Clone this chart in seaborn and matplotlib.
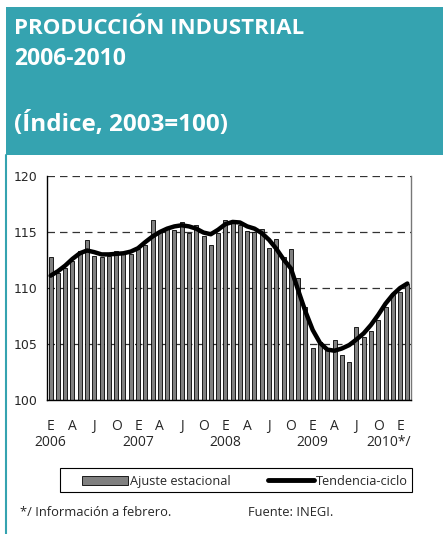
import matplotlib
matplotlib.use("Agg")
import pandas as pd
import matplotlib.pyplot as plt
import seaborn as sns
from matplotlib.patches import Rectangle, Patch
from matplotlib.lines import Line2D
from matplotlib.transforms import blended_transform_factory

# ================= DATA =================
# monthly index, Jan 2006 - Feb 2010
ajuste = [
    112.8, 111.3, 111.8, 112.4, 113.3, 114.3, 112.9, 112.75, 112.9, 113.3, 113.0, 113.0,
    113.5, 113.8, 116.05, 115.0, 115.3, 115.2, 115.9, 114.95, 115.6, 114.6, 113.8, 114.95,
    116.1, 115.8, 115.6, 115.1, 115.0, 115.3, 113.6, 114.35, 112.8, 113.45, 110.9, 108.3,
    104.6, 105.2, 104.5, 105.4, 104.0, 103.4, 106.55, 105.65, 106.15, 107.1, 108.3, 109.4,
    109.65, 110.35,
]
tendencia = [
    111.1, 111.5, 112.0, 112.6, 113.1, 113.35, 113.2, 113.0, 113.0, 113.05, 113.1, 113.25,
    113.55, 114.1, 114.6, 115.0, 115.3, 115.5, 115.6, 115.5, 115.3, 114.95, 114.8, 115.2,
    115.7, 115.9, 115.85, 115.5, 115.3, 114.9, 114.3, 113.5, 112.55, 111.75, 109.8, 107.9,
    106.25, 105.1, 104.5, 104.4, 104.6, 104.9, 105.4, 105.95, 106.7, 107.6, 108.6, 109.4,
    110.0, 110.4,
]
month_ticks = ["E", "A", "J", "O"] * 4 + ["E"]
year_labels = ["2006", "2007", "2008", "2009"]
last_year_label = "2010*/"
y_ticks = [100, 105, 110, 115, 120]

df = pd.DataFrame({"mes": range(len(ajuste)), "ajuste": ajuste, "tendencia": tendencia})

TEAL = "#35a3b0"
FONT = ["Open Sans", "DejaVu Sans"]

# ================= FIGURE =================
sns.set_style("white")
plt.rcParams["font.family"] = FONT

fig = plt.figure(figsize=(4.43, 5.34), dpi=100)

# header box + left border
fig.patches.append(Rectangle((6 / 443, 1 - 155 / 534), 1, 148 / 534,
                             transform=fig.transFigure, facecolor=TEAL,
                             edgecolor="none", zorder=0))
fig.add_artist(Line2D([6 / 443, 6 / 443], [0, 1 - 155 / 534],
                      transform=fig.transFigure, color=TEAL, lw=1.5))

fig.text(14 / 443, 1 - 34 / 534, "PRODUCCIÓN INDUSTRIAL", color="white",
         fontsize=16, fontweight="bold", va="baseline")
fig.text(14 / 443, 1 - 65 / 534, "2006-2010", color="white",
         fontsize=16.5, fontweight="bold", va="baseline")
fig.text(14 / 443, 1 - 131 / 534, "(Índice, 2003=100)", color="white",
         fontsize=17.5, fontweight="bold", va="baseline")

# ================= CHART =================
ax = fig.add_axes([47 / 443, 1 - 400 / 534, 364 / 443, 224 / 534])

sns.barplot(data=df, x="mes", y="ajuste", color="#808080", saturation=1,
            width=0.55, edgecolor="black", linewidth=0.6, ax=ax)
sns.lineplot(data=df, x="mes", y="tendencia", color="black", lw=3.2, ax=ax)

ax.set_xlim(-0.5, len(ajuste) - 0.5)
ax.set_ylim(100, 120)
ax.set_yticks(y_ticks)
ax.set_yticklabels([str(v) for v in y_ticks], family="DejaVu Sans", fontsize=9)
ax.set_xticks(range(0, len(ajuste), 3))
ax.set_xticklabels(month_ticks, fontsize=10)
ax.set_xticks([i - 0.5 for i in range(len(ajuste) + 1)], minor=True)
ax.tick_params(axis="x", which="major", length=0, pad=14)
ax.tick_params(axis="x", which="minor", length=4, width=0.8, color="black", direction="out")
ax.tick_params(axis="y", length=4, width=0.8, color="black", direction="out", pad=3)
ax.set_xlabel("")
ax.set_ylabel("")

ax.yaxis.grid(True, linestyle=(0, (6, 4)), color="#333333", lw=0.9)
ax.xaxis.grid(False)
ax.set_axisbelow(True)

for side in ["left", "bottom"]:
    ax.spines[side].set_color("black")
    ax.spines[side].set_linewidth(1)
ax.spines["top"].set_visible(False)
ax.spines["right"].set_color("#777777")
ax.spines["right"].set_linewidth(1)

# year labels under the month letters
trans = blended_transform_factory(ax.transData, ax.transAxes)
for k, yr in enumerate(year_labels):
    ax.text(k * 12, -0.19, yr, transform=trans, ha="center", va="center", fontsize=10)
ax.text(len(ajuste) - 0.5, -0.19, last_year_label, transform=trans,
        ha="right", va="center", fontsize=10)

# ================= LEGEND =================
fig.patches.append(Rectangle((60 / 443, 1 - 492 / 534), 352 / 443, 24 / 534,
                             transform=fig.transFigure, facecolor="white",
                             edgecolor="black", linewidth=0.8))
handles = [Patch(facecolor="#808080", edgecolor="black", linewidth=0.6),
           Line2D([], [], color="black", lw=3.5)]
leg = fig.legend(handles, ["Ajuste estacional", "Tendencia-ciclo"], ncol=2,
                 loc="lower left", mode="expand",
                 bbox_to_anchor=(78 / 443, 1 - 492 / 534, 334 / 443, 24 / 534),
                 fontsize=9.2, frameon=False, borderaxespad=0,
                 handlelength=3.6, handleheight=0.7, handletextpad=0.15,
                 borderpad=0.35)

# ================= NOTES =================
fig.text(20 / 443, 1 - 512 / 534, "*/ Información a febrero.", fontsize=9.3, va="center")
fig.text(248 / 443, 1 - 512 / 534, "Fuente: INEGI.", fontsize=9.3, va="center")

fig.savefig("out.png", dpi=100)
plt.close(fig)
